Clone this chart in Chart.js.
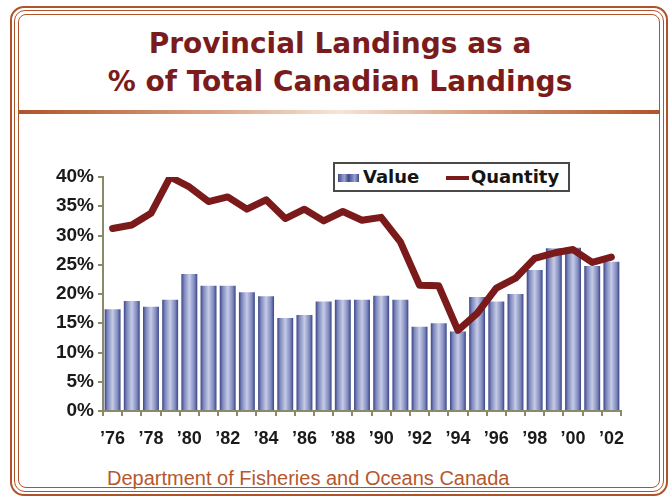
<!DOCTYPE html>
<html>
<head>
<meta charset="utf-8">
<script src="https://cdn.jsdelivr.net/npm/chart.js@4"></script>
<style>
  html, body { margin: 0; padding: 0; background: #fff; }
  #wrap { position: relative; width: 670px; height: 499px; overflow: hidden; background: #fff; }
  .frame { position: absolute; box-sizing: border-box; border: 2px solid #b0532b; }
  #f1 { left: 10px; top: 6px; width: 658px; height: 490px; border-radius: 14px; }
  #f2 { left: 14px; top: 10px; width: 650px; height: 482px; border-radius: 11px; border-width: 1.5px; }
  #f3 { left: 18px; top: 14px; width: 642px; height: 474px; border-radius: 8px; border-width: 1.5px; }
  #sep { position: absolute; left: 19px; top: 110px; width: 641px; height: 4px;
         background: linear-gradient(to right, #b0532b 0%, #d9a283 30%, #f6e4d8 50%, #d9a283 70%, #b0532b 100%); }
  #title { position: absolute; left: 0; top: 25px; width: 680px; text-align: center;
           font: bold 28px "DejaVu Sans", sans-serif; line-height: 38px; color: #7a1c1c; }
  #source { position: absolute; left: 107px; top: 466px;
            font: 20px "Liberation Sans", Arial, sans-serif; line-height: 24px; color: #b5582f; }
  #legend { position: absolute; left: 333px; top: 162px; width: 237px; height: 30px; box-sizing: border-box;
            border: 2px solid #4a4a4a; background: #fff; z-index: 2;
            font: bold 18px "DejaVu Sans", sans-serif; color: #151515; line-height: 26px; }
  #legend span { position: absolute; top: 0; }
  .sw { position: absolute; }
  #cv { position: absolute; left: 0; top: 0; z-index: 1; }
</style>
</head>
<body>
<div id="wrap">
  <div class="frame" id="f1"></div>
  <div class="frame" id="f2"></div>
  <div class="frame" id="f3"></div>
  <div id="sep"></div>
  <div id="title">Provincial Landings as a<br>% of Total Canadian Landings</div>
  <div id="source">Department of Fisheries and Oceans Canada</div>
  <div id="legend">
    <div class="sw" style="left:3px;top:10px;width:21px;height:8px;background:linear-gradient(to right,#3f4a8a,#9aa2cf 30%,#3f4a8a 50%,#9aa2cf 80%,#3f4a8a);"></div>
    <span style="left:28px;">Value</span>
    <div class="sw" style="left:111px;top:12px;width:23px;height:4px;background:#7b1a1a;"></div>
    <span style="left:136px;">Quantity</span>
  </div>
  <canvas id="cv" width="670" height="499"></canvas>
</div>
<script>
const years = ['76','77','78','79','80','81','82','83','84','85','86','87','88','89',
               '90','91','92','93','94','95','96','97','98','99','00','01','02'];
const valueShare = [17.4, 18.8, 17.8, 19.0, 23.4, 21.4, 21.4, 20.3, 19.6, 15.9, 16.4, 18.7, 19.0, 19.0,
                    19.7, 19.0, 14.4, 15.0, 13.6, 19.5, 18.7, 20.0, 24.1, 27.8, 27.9, 24.8, 25.5];
const quantityShare = [31.2, 31.8, 33.8, 40.0, 38.3, 35.8, 36.6, 34.5, 36.1, 32.9, 34.5, 32.5, 34.1, 32.6,
                       33.1, 28.9, 21.5, 21.4, 13.8, 16.7, 21.0, 22.7, 26.1, 27.0, 27.6, 25.4, 26.3];
const yTicks = [0, 5, 10, 15, 20, 25, 30, 35, 40];

const axisColor = '#8a8a6a';
const barPct = 0.83;

// striped look of the bars: dark edges, pale middle
function barFill(ctx) {
    const chart = ctx.chart;
    const xs = chart.scales.x;
    if (!xs || !xs.width || ctx.type !== 'data') return '#a9b0d4';
    const cx = xs.getPixelForValue(ctx.dataIndex);
    const half = xs.width / years.length * barPct / 2;
    if (!isFinite(cx) || !isFinite(half)) return '#a9b0d4';
    const g = chart.ctx.createLinearGradient(cx - half, 0, cx + half, 0);
    g.addColorStop(0, '#3a4585');
    g.addColorStop(0.18, '#7e88bd');
    g.addColorStop(0.5, '#c6cbe6');
    g.addColorStop(0.82, '#7e88bd');
    g.addColorStop(1, '#3a4585');
    return g;
}

new Chart(document.getElementById('cv').getContext('2d'), {
    data: {
        labels: years,
        datasets: [{
            type: 'line',
            label: 'Quantity',
            data: quantityShare,
            borderColor: '#7b1a1a',
            borderWidth: 7,
            pointRadius: 0,
            tension: 0,
            borderJoinStyle: 'round',
            borderCapStyle: 'round',
            order: 0
        }, {
            type: 'bar',
            label: 'Value',
            data: valueShare,
            backgroundColor: barFill,
            borderWidth: 0,
            barPercentage: barPct,
            categoryPercentage: 1.0,
            order: 1
        }]
    },
    options: {
        responsive: false,
        animation: false,
        layout: { padding: { left: 0, right: 49, top: 177, bottom: 48 } },
        plugins: {
            legend: { display: false },
            title: { display: false },
            tooltip: { enabled: false }
        },
        scales: {
            x: {
                offset: true,
                afterFit: s => { s.height = 40; },
                grid: { drawOnChartArea: false, tickLength: 5, color: axisColor, lineWidth: 2, offset: true },
                border: { color: axisColor, width: 2 },
                ticks: {
                    autoSkip: false,
                    maxRotation: 0,
                    padding: 12,
                    color: '#1a1a1a',
                    font: { family: 'Liberation Sans', size: 18, weight: 'bold' },
                    callback: (v, i) => i % 2 === 0 ? '\u2019' + years[i] : ''
                }
            },
            y: {
                min: 0,
                max: 40,
                afterFit: s => { s.width = 103; },
                afterBuildTicks: s => { s.ticks = yTicks.map(v => ({ value: v })); },
                grid: { drawOnChartArea: false, tickLength: 5, color: axisColor, lineWidth: 2 },
                border: { color: axisColor, width: 2 },
                ticks: {
                    padding: 4,
                    color: '#1a1a1a',
                    font: { family: 'Liberation Sans', size: 19, weight: 'bold' },
                    callback: v => v + '%'
                }
            }
        }
    }
});
</script>
</body>
</html>
